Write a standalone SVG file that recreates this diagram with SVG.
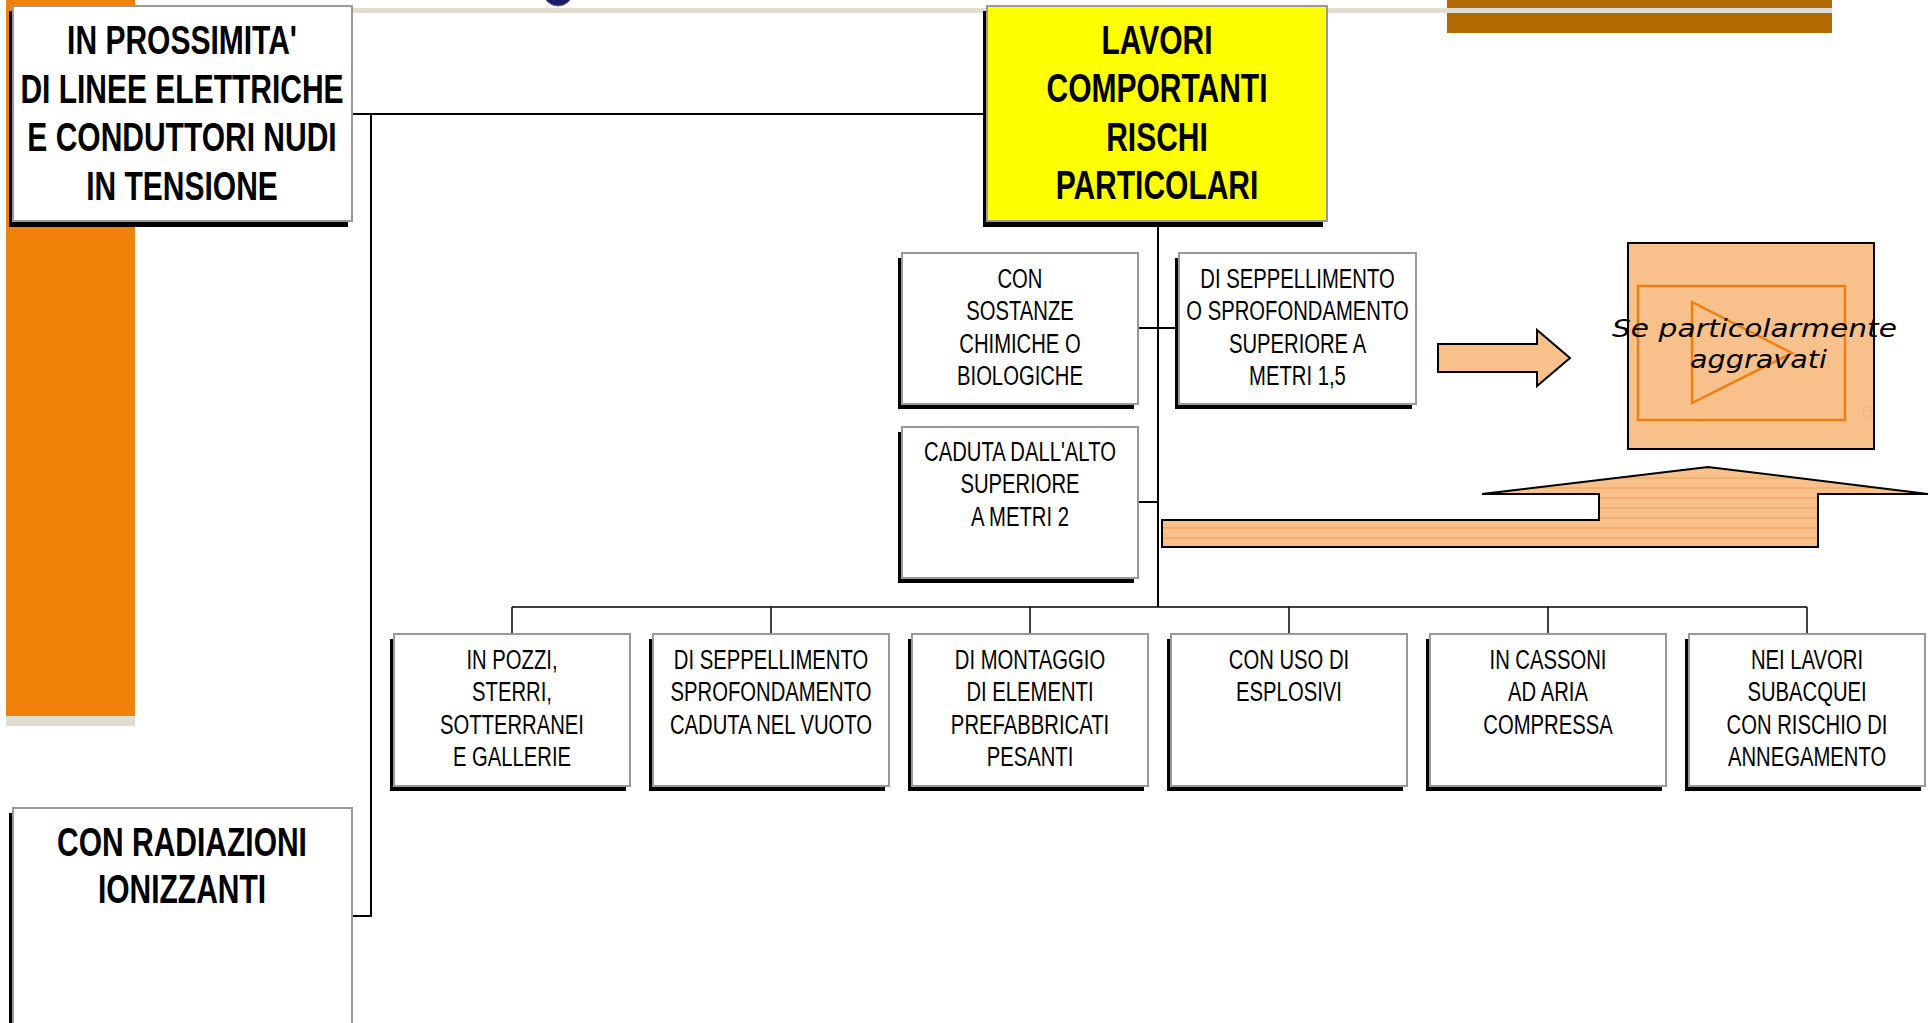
<svg xmlns="http://www.w3.org/2000/svg" width="1930" height="1023" viewBox="0 0 1930 1023">
<style>
.sh{fill:#000}
.bx{fill:#fff;stroke:#999;stroke-width:2}
.yl{fill:#ffff00;stroke:#999;stroke-width:2}
.big{font-family:"Liberation Sans",Arial,sans-serif;font-weight:bold;font-size:40px;text-anchor:middle;fill:#000}
.med{font-family:"Liberation Sans",Arial,sans-serif;font-size:27px;text-anchor:middle;fill:#000}
.cn{stroke:#000;stroke-width:2;fill:none}
.cnt{stroke:#000;stroke-width:1.5;fill:none}
.peach{fill:#F8C18C;stroke:#000;stroke-width:2}
.org{fill:none;stroke:#EE7F0E;stroke-width:2.5}
.hand{font-family:"DejaVu Sans",sans-serif;font-style:italic;font-size:25px;text-anchor:middle;fill:#000}
</style>
<defs>
<pattern id="stripes" patternUnits="userSpaceOnUse" x="0" y="477.5" width="20" height="10">
<rect x="0" y="0" width="20" height="10" fill="#F8C18C"/>
<line x1="0" y1="0.5" x2="20" y2="0.5" stroke="#F0A050" stroke-width="1"/>
</pattern>
</defs>
<rect width="1930" height="1023" fill="#fff"/>
<!-- background decoration -->
<g id="decor">
<rect x="6" y="0" width="129" height="716" fill="#F0820A"/>
<rect x="6" y="716" width="129" height="10" fill="#E2DDD3"/>
<rect x="1447" y="0" width="385" height="33" fill="#B26900"/>
<rect x="135" y="8" width="1697" height="5" fill="#E2DDD3"/>
<circle cx="558" cy="-9" r="15" fill="#1C1C6B" stroke="#5a5aa0" stroke-width="1"/>
</g>
<!-- connectors -->
<g id="connectors">
<polyline class="cn" points="352,114 986,114"/>
<polyline class="cn" points="371,114 371,916 352,916"/>
<line class="cn" x1="1158" y1="221" x2="1158" y2="607"/>
<line class="cn" x1="1138" y1="328" x2="1179" y2="328"/>
<line class="cn" x1="1138" y1="502" x2="1158" y2="502"/>
<line class="cnt" x1="512" y1="607" x2="1807" y2="607"/>
<line class="cnt" x1="512" y1="607" x2="512" y2="634"/>
<line class="cnt" x1="771" y1="607" x2="771" y2="634"/>
<line class="cnt" x1="1030" y1="607" x2="1030" y2="634"/>
<line class="cnt" x1="1289" y1="607" x2="1289" y2="634"/>
<line class="cnt" x1="1548" y1="607" x2="1548" y2="634"/>
<line class="cnt" x1="1807" y1="607" x2="1807" y2="634"/>
</g>
<g id="n-prossimita">
<rect class="sh" x="9" y="11" width="339" height="216"/>
<rect class="bx" x="13" y="6" width="339" height="215"/>
<text class="big" transform="matrix(0.75 0 0 1 182 0)"><tspan x="0" y="54">IN PROSSIMITA'</tspan><tspan x="0" y="103">DI LINEE ELETTRICHE</tspan><tspan x="0" y="151">E CONDUTTORI NUDI</tspan><tspan x="0" y="200">IN TENSIONE</tspan></text>
</g>
<g id="n-lavori">
<rect class="sh" x="983" y="11" width="340" height="216"/>
<rect class="yl" x="987" y="6" width="340" height="215"/>
<text class="big" transform="matrix(0.75 0 0 1 1157 0)"><tspan x="0" y="54">LAVORI</tspan><tspan x="0" y="102">COMPORTANTI</tspan><tspan x="0" y="151">RISCHI</tspan><tspan x="0" y="199">PARTICOLARI</tspan></text>
</g>
<g id="n-radiazioni">
<rect class="sh" x="9" y="813" width="339" height="230"/>
<rect class="bx" x="13" y="808" width="339" height="230"/>
<text class="big" transform="matrix(0.75 0 0 1 182 0)"><tspan x="0" y="856">CON RADIAZIONI</tspan><tspan x="0" y="903">IONIZZANTI</tspan></text>
</g>
<g id="n-chimiche">
<rect class="sh" x="898" y="258" width="236" height="151"/>
<rect class="bx" x="902" y="253" width="236" height="151"/>
<text class="med" transform="matrix(0.75 0 0 1 1020 0)"><tspan x="0" y="288">CON</tspan><tspan x="0" y="320.5">SOSTANZE</tspan><tspan x="0" y="353">CHIMICHE O</tspan><tspan x="0" y="385.5">BIOLOGICHE</tspan></text>
</g>
<g id="n-seppellimento15">
<rect class="sh" x="1175" y="258" width="237" height="151"/>
<rect class="bx" x="1179" y="253" width="237" height="151"/>
<text class="med" transform="matrix(0.75 0 0 1 1297.5 0)"><tspan x="0" y="288">DI SEPPELLIMENTO</tspan><tspan x="0" y="320.5">O SPROFONDAMENTO</tspan><tspan x="0" y="353">SUPERIORE A</tspan><tspan x="0" y="385.5">METRI 1,5</tspan></text>
</g>
<g id="n-caduta">
<rect class="sh" x="898" y="432" width="236" height="151"/>
<rect class="bx" x="902" y="427" width="236" height="151"/>
<text class="med" transform="matrix(0.75 0 0 1 1020 0)"><tspan x="0" y="461">CADUTA DALL'ALTO</tspan><tspan x="0" y="493.5">SUPERIORE</tspan><tspan x="0" y="526">A METRI 2</tspan></text>
</g>
<g id="n-pozzi">
<rect class="sh" x="390" y="639" width="236" height="152"/>
<rect class="bx" x="394" y="634" width="236" height="152"/>
<text class="med" transform="matrix(0.75 0 0 1 512 0)"><tspan x="0" y="669">IN POZZI,</tspan><tspan x="0" y="701.5">STERRI,</tspan><tspan x="0" y="734">SOTTERRANEI</tspan><tspan x="0" y="766.5">E GALLERIE</tspan></text>
</g>
<g id="n-vuoto">
<rect class="sh" x="649" y="639" width="236" height="152"/>
<rect class="bx" x="653" y="634" width="236" height="152"/>
<text class="med" transform="matrix(0.75 0 0 1 771 0)"><tspan x="0" y="669">DI SEPPELLIMENTO</tspan><tspan x="0" y="701.5">SPROFONDAMENTO</tspan><tspan x="0" y="734">CADUTA NEL VUOTO</tspan></text>
</g>
<g id="n-montaggio">
<rect class="sh" x="908" y="639" width="236" height="152"/>
<rect class="bx" x="912" y="634" width="236" height="152"/>
<text class="med" transform="matrix(0.75 0 0 1 1030 0)"><tspan x="0" y="669">DI MONTAGGIO</tspan><tspan x="0" y="701.5">DI ELEMENTI</tspan><tspan x="0" y="734">PREFABBRICATI</tspan><tspan x="0" y="766.5">PESANTI</tspan></text>
</g>
<g id="n-esplosivi">
<rect class="sh" x="1167" y="639" width="236" height="152"/>
<rect class="bx" x="1171" y="634" width="236" height="152"/>
<text class="med" transform="matrix(0.75 0 0 1 1289 0)"><tspan x="0" y="669">CON USO DI</tspan><tspan x="0" y="701.5">ESPLOSIVI</tspan></text>
</g>
<g id="n-cassoni">
<rect class="sh" x="1426" y="639" width="236" height="152"/>
<rect class="bx" x="1430" y="634" width="236" height="152"/>
<text class="med" transform="matrix(0.75 0 0 1 1548 0)"><tspan x="0" y="669">IN CASSONI</tspan><tspan x="0" y="701.5">AD ARIA</tspan><tspan x="0" y="734">COMPRESSA</tspan></text>
</g>
<g id="n-subacquei">
<rect class="sh" x="1685" y="639" width="236" height="152"/>
<rect class="bx" x="1689" y="634" width="236" height="152"/>
<text class="med" transform="matrix(0.75 0 0 1 1807 0)"><tspan x="0" y="669">NEI LAVORI</tspan><tspan x="0" y="701.5">SUBACQUEI</tspan><tspan x="0" y="734">CON RISCHIO DI</tspan><tspan x="0" y="766.5">ANNEGAMENTO</tspan></text>
</g>
<g id="arrow-right">
<polygon class="peach" points="1438,344 1537,344 1537,330 1570,358 1537,386 1537,372 1438,372"/>
</g>
<g id="n-aggravati">
<rect class="peach" x="1628" y="243" width="246" height="206"/>
<rect class="org" x="1638" y="286" width="207" height="134"/>
<polygon class="org" points="1692,302 1692,403 1792,353"/>
<rect x="1863" y="407" width="8" height="9" fill="none" stroke="#F3B27A" stroke-width="1"/>
<text class="hand"><tspan x="1754.5" y="337" textLength="285" lengthAdjust="spacingAndGlyphs">Se particolarmente</tspan><tspan x="1758.5" y="368" textLength="137" lengthAdjust="spacingAndGlyphs">aggravati</tspan></text>
</g>
<g id="arrow-up">
<polygon points="1162,520 1599,520 1599,494 1482,494 1708,467 1928,494 1818,494 1818,547 1162,547" fill="url(#stripes)" stroke="#000" stroke-width="2"/>
</g>
</svg>
